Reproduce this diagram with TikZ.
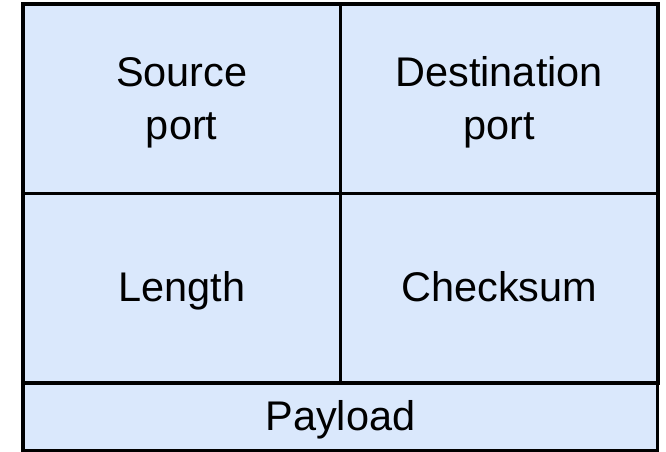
\documentclass[tikz,border=0pt]{standalone}
\usepackage{fontspec}
\setmainfont{Liberation Sans}
\usetikzlibrary{positioning}

\definecolor{cellfill}{HTML}{DAE8FC}
% strut giving every line the same height and depth
\newcommand{\cellstrut}{\rule[-0.3em]{0pt}{1.25em}}

\begin{document}
\begin{tikzpicture}
  [x=0.02cm,y=-0.02cm,
   every node/.style={draw,line width=2.2pt,fill=cellfill,inner sep=0pt,outer sep=0pt,
     align=center,font=\fontsize{23.6}{30.1}\selectfont,
     execute at begin node=\cellstrut,execute at end node=\cellstrut},
   halfcell/.style={minimum width=6.35cm,minimum height=3.79cm},
   twoline/.style={text depth=0.06em}]
  \useasboundingbox (0,0) rectangle (666,452);

  % header fields, two per row
  \node[halfcell,twoline,anchor=north west] (src) at (23,4) {Source\\port};
  \node[halfcell,twoline,anchor=north west] (dst) at (src.north east) {Destination\\port};
  \node[halfcell,anchor=north west] (len) at (src.south west) {Length};
  \node[halfcell,anchor=north west] (chk) at (len.north east) {Checksum};

  % data below the header
  \node[anchor=north west,minimum width=12.7cm,minimum height=1.36cm,line width=1.8pt]
    (pay) at (len.south west) {Payload};

\end{tikzpicture}
\end{document}
